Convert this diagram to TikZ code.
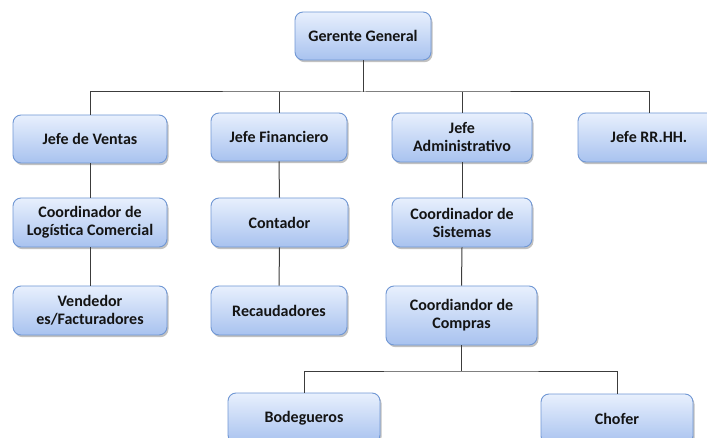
\documentclass[tikz,border=0pt]{standalone}
\usepackage{fontspec}
\setmainfont{Carlito}
\usetikzlibrary{shadows}
\definecolor{boxtop}{HTML}{E8F0FD}
\definecolor{boxbot}{HTML}{A8C2EF}
\definecolor{boxedge}{HTML}{7097D4}
\definecolor{linec}{HTML}{3C3C3C}
\tikzset{
  orgbox/.style={draw=boxedge, line width=0.9pt, rounded corners=8pt,
    top color=boxtop, bottom color=boxbot,
    drop shadow={shadow xshift=1.5pt, shadow yshift=-2.2pt, opacity=0.35, fill=black!70},
    align=center, inner sep=2pt,
    font=\fontsize{16}{18}\selectfont\bfseries, text=black!92},
  conn/.style={draw=linec, line width=1pt}
}
\begin{document}
\begin{tikzpicture}[x=1pt,y=-1pt]
\useasboundingbox (0,0) rectangle (707,438);
\clip (0,0) rectangle (707,438);
\node[orgbox, minimum width=136pt, minimum height=48pt] (gg) at (363,36) {Gerente General};
\node[orgbox, minimum width=154pt, minimum height=48pt] (jv) at (90,139) {Jefe de Ventas};
\node[orgbox, minimum width=136pt, minimum height=48pt] (jf) at (279,137) {Jefe Financiero};
\node[orgbox, minimum width=140pt, minimum height=49pt] (ja) at (462,137.5) {Jefe\\Administrativo};
\node[orgbox, minimum width=142pt, minimum height=49pt] (jr) at (649,137.5) {Jefe RR.HH.};
\node[orgbox, minimum width=154pt, minimum height=49pt] (clc) at (90,222.5) {Coordinador de\\Logística Comercial};
\node[orgbox, minimum width=137pt, minimum height=49pt] (con) at (279.5,222.5) {Contador};
\node[orgbox, minimum width=140pt, minimum height=49pt] (cs) at (462,222.5) {Coordinador de\\Sistemas};
\node[orgbox, minimum width=154pt, minimum height=49pt] (ve) at (90,310.5) {Vendedor\\es/Facturadores};
\node[orgbox, minimum width=136pt, minimum height=49pt] (re) at (279,310.5) {Recaudadores};
\node[orgbox, minimum width=151pt, minimum height=59pt] (cc) at (461.5,315.5) {Coordiandor de\\Compras};
\node[orgbox, minimum width=152pt, minimum height=50pt] (bo) at (304,418) {Bodegueros};
\node[orgbox, minimum width=152pt, minimum height=50pt] (ch) at (617,419) {Chofer};
\coordinate (h1) at (363,92);
\coordinate (h2) at (461.5,371);
\draw[conn] (gg.south) -- (h1);
\draw[conn] (jv.north) |- (h1) -| (jr.north);
\draw[conn] (jf.north) -- (jf.north |- h1);
\draw[conn] (ja.north) -- (ja.north |- h1);
\draw[conn] (jv.south) -- (clc.north);
\draw[conn] (clc.south) -- (ve.north);
\draw[conn] (jf.south) -- (con.north);
\draw[conn] (con.south) -- (re.north);
\draw[conn] (ja.south) -- (cs.north);
\draw[conn] (cs.south) -- (cc.north);
\draw[conn] (cc.south) -- (h2);
\draw[conn] (bo.north) |- (h2) -| (ch.north);
\end{tikzpicture}
\end{document}
